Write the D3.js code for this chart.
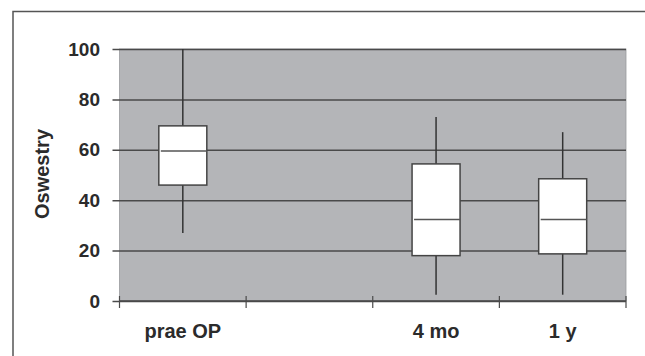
<!DOCTYPE html>
<html>
<head>
<meta charset="utf-8">
<script src="https://cdn.jsdelivr.net/npm/d3@7"></script>
<style>
  body { margin: 0; background: #fff; }
  svg { display: block; font-family: "Liberation Sans", Arial, sans-serif; }
</style>
</head>
<body>
<div id="chart-div"></div>
<script>
// categories on the x axis (second slot is empty in the original)
const slots = ["prae OP", "gap", "4 mo", "1 y"];
const groups = ["prae OP", "4 mo", "1 y"];
const whiskerMin = [27, 2.5, 2.5];
const boxQ1 = [46, 18, 18.7];
const boxMedian = [59.5, 32.3, 32.3];
const boxQ3 = [69.5, 54.4, 48.5];
const whiskerMax = [100, 73, 67];
const yTicks = [0, 20, 40, 60, 80, 100];
const yLabel = "Oswestry";

const width = 645;
const height = 356;
const margin = { top: 49, right: 19, bottom: 55, left: 119.5 };
const innerWidth = width - margin.left - margin.right;
const innerHeight = height - margin.top - margin.bottom;
const textColor = '#2b2b2b';

const svg = d3.select('#chart-div').append('svg')
    .attr('width', width)
    .attr('height', height);

// outer frame (top + left only, cropped figure)
svg.append('path')
    .attr('d', `M13,${height} L13,11.5 L${width},11.5`)
    .attr('fill', 'none')
    .attr('stroke', '#555')
    .attr('stroke-width', 1.5);

const g = svg.append('g')
    .attr('transform', `translate(${margin.left},${margin.top})`);

const xScale = d3.scaleBand()
    .domain(slots)
    .range([0, innerWidth]);

const yScale = d3.scaleLinear()
    .domain([0, 100])
    .range([innerHeight, 0]);

g.append('rect')
    .attr('width', innerWidth)
    .attr('height', innerHeight)
    .attr('fill', '#b4b5b8')
    .attr('stroke', '#9a9b9e')
    .attr('stroke-width', 0.8);

// y axis with gridlines
const yAxis = d3.axisLeft(yScale)
    .tickValues(yTicks)
    .tickSizeInner(-innerWidth)
    .tickSizeOuter(0)
    .tickPadding(19.5);

const yAxisG = g.append('g').call(yAxis);
yAxisG.select('.domain').remove();
yAxisG.selectAll('.tick line')
    .attr('x1', -7)
    .attr('stroke', '#4a4a4a')
    .attr('stroke-width', 1.5);
yAxisG.selectAll('.tick text')
    .attr('font-size', 19)
    .attr('font-weight', 'bold')
    .attr('fill', textColor);

yAxisG.append('text')
    .attr('transform', 'rotate(-90)')
    .attr('x', -(174 - margin.top))
    .attr('y', 48.5 - margin.left)
    .attr('text-anchor', 'middle')
    .attr('font-size', 20)
    .attr('font-weight', 'bold')
    .attr('fill', textColor)
    .text(yLabel);

// x axis: ticks between bands
const xAxisG = g.append('g')
    .attr('transform', `translate(0,${innerHeight})`);

xAxisG.append('line')
    .attr('x1', 0)
    .attr('x2', innerWidth)
    .attr('stroke', '#4a4a4a')
    .attr('stroke-width', 1.5);

xAxisG.selectAll('.sep')
    .data(slots.map(d => xScale(d)).concat([innerWidth]))
    .enter().append('line')
    .attr('class', 'sep')
    .attr('x1', d => d)
    .attr('x2', d => d)
    .attr('y1', -5)
    .attr('y2', 7)
    .attr('stroke', '#4a4a4a')
    .attr('stroke-width', 1.2);

xAxisG.selectAll('.xlab')
    .data(groups)
    .enter().append('text')
    .attr('class', 'xlab')
    .attr('x', d => xScale(d) + xScale.bandwidth() / 2)
    .attr('y', 37)
    .attr('text-anchor', 'middle')
    .attr('font-size', 20)
    .attr('font-weight', 'bold')
    .attr('fill', textColor)
    .text(d => d);

// box plots
const boxWidth = 48;
const boxes = g.selectAll('.box')
    .data(groups.map((name, i) => ({
        name, min: whiskerMin[i], q1: boxQ1[i], med: boxMedian[i], q3: boxQ3[i], max: whiskerMax[i]
    })))
    .enter().append('g')
    .attr('class', 'box')
    .attr('transform', d => `translate(${xScale(d.name) + xScale.bandwidth() / 2},0)`);

boxes.append('line')
    .attr('y1', d => yScale(d.min))
    .attr('y2', d => yScale(d.max))
    .attr('stroke', '#333')
    .attr('stroke-width', 1.5);

boxes.append('rect')
    .attr('x', -boxWidth / 2)
    .attr('width', boxWidth)
    .attr('y', d => yScale(d.q3))
    .attr('height', d => yScale(d.q1) - yScale(d.q3))
    .attr('fill', '#fff')
    .attr('stroke', '#444')
    .attr('stroke-width', 1.5);

boxes.append('line')
    .attr('x1', -boxWidth / 2 + 2)
    .attr('x2', boxWidth / 2)
    .attr('y1', d => yScale(d.med))
    .attr('y2', d => yScale(d.med))
    .attr('stroke', '#555')
    .attr('stroke-width', 1.5);
</script>
</body>
</html>
